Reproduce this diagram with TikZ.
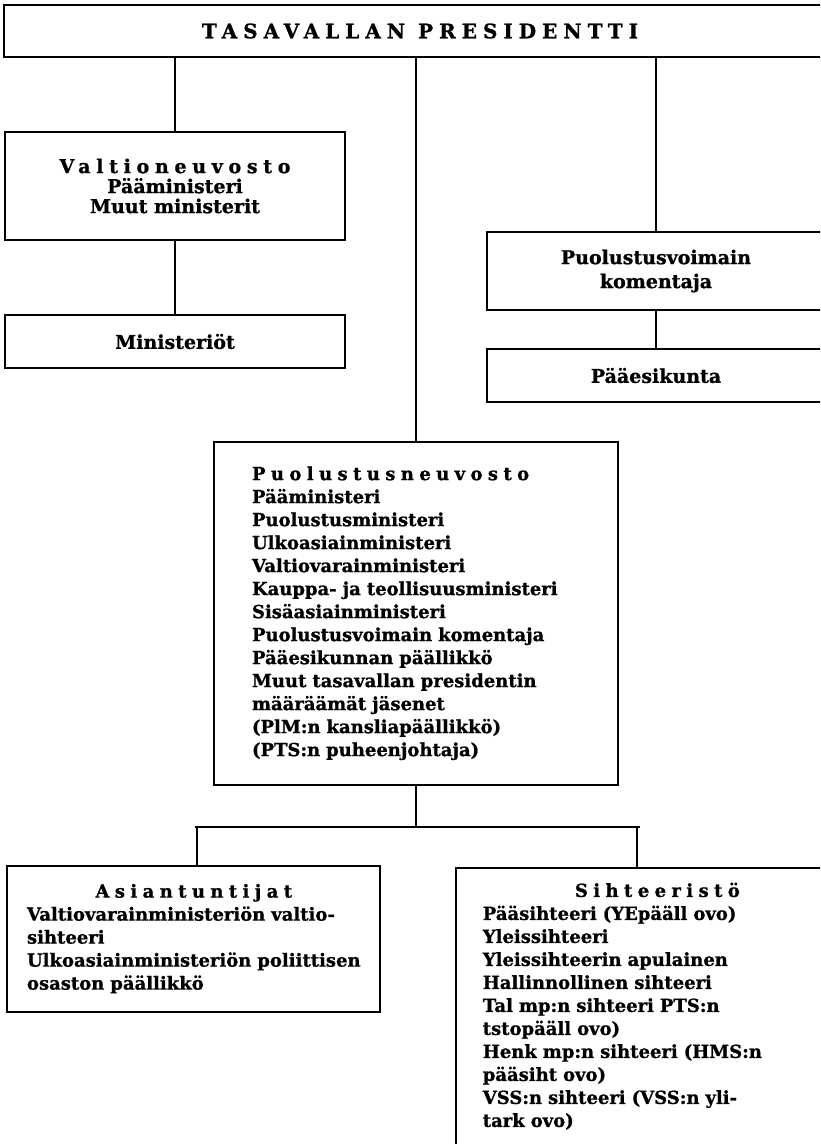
\documentclass[tikz,border=0pt]{standalone}
\usepackage{fontspec}
\setmainfont{DejaVu Serif}[BoldFeatures={FakeBold=1}]
\newfontfamily\harva{DejaVu Serif}[LetterSpace=30, BoldFeatures={FakeBold=1}]

\tikzset{
  laatikko/.style={draw, line width=1.6pt, inner sep=0pt, align=center,
    font=\fontsize{19}{20}\selectfont\bfseries},
  luettelo/.style={draw, line width=1.6pt, inner ysep=0pt, align=left,
    font=\fontsize{18}{23}\selectfont\bfseries},
  yhteys/.style={line width=1.6pt},
}

\begin{document}
\begin{tikzpicture}[x=1pt,y=-1pt]
  \useasboundingbox (0,0) rectangle (820,1144);
  \clip (0,0) rectangle (820,1144);

  % ylin taso
  \node[laatikko, minimum width=832pt, minimum height=52pt,
    font=\fontsize{20}{22}\selectfont\bfseries] (presidentti) at (420,31)
    {\harva TASAVALLAN PRESIDENTTI};

  % vasen haara
  \node[laatikko, minimum width=340pt, minimum height=108pt] (valtioneuvosto) at (175,186)
    {{\harva Valtioneuvosto}\\Pääministeri\\Muut ministerit};
  \node[laatikko, minimum width=340pt, minimum height=53pt] (ministeriot) at (175,341.5)
    {Ministeriöt};

  % oikea haara
  \node[laatikko, minimum width=338pt, minimum height=78pt,
    font=\fontsize{19}{24}\selectfont\bfseries] (komentaja) at (656,271)
    {Puolustusvoimain\\komentaja};
  \node[laatikko, minimum width=338pt, minimum height=53pt] (paaesikunta) at (656,375.5)
    {Pääesikunta};

  % keskimmäinen
  \node[luettelo, text width=328pt, inner xsep=38pt, minimum height=343pt] (neuvosto) at (416,613.5)
    {\begin{tabular}{@{}l@{}}
      {\harva Puolustusneuvosto}\\
      Pääministeri\\
      Puolustusministeri\\
      Ulkoasiainministeri\\
      Valtiovarainministeri\\
      Kauppa- ja teollisuusministeri\\
      Sisäasiainministeri\\
      Puolustusvoimain komentaja\\
      Pääesikunnan päällikkö\\
      Muut tasavallan presidentin\\
      määräämät jäsenet\\
      (PlM:n kansliapäällikkö)\\
      (PTS:n puheenjohtaja)
    \end{tabular}};

  % alin taso
  \node[luettelo, text width=333pt, inner xsep=20pt, minimum height=146pt] (asiantuntijat) at (193.5,939)
    {\begin{tabular}{@{}l@{}}
      \multicolumn{1}{@{}c@{}}{\harva Asiantuntijat}\\
      Valtiovarainministeriön valtio-\\
      sihteeri\\
      Ulkoasiainministeriön poliittisen\\
      osaston päällikkö
    \end{tabular}};
  \node[luettelo, text width=400pt, inner xsep=27pt, inner ysep=13pt, anchor=north west] (sihteeristo) at (455,867)
    {\begin{tabular}{@{}l@{}}
      \multicolumn{1}{@{}c@{}}{\hspace{70pt}\harva Sihteeristö}\\
      Pääsihteeri (YEpääll ovo)\\
      Yleissihteeri\\
      Yleissihteerin apulainen\\
      Hallinnollinen sihteeri\\
      Tal mp:n sihteeri PTS:n\\
      tstopääll ovo)\\
      Henk mp:n sihteeri (HMS:n\\
      pääsiht ovo)\\
      VSS:n sihteeri (VSS:n yli-\\
      tark ovo)\\[40pt]
    \end{tabular}};

  % yhteydet
  \draw[yhteys] (presidentti.south -| valtioneuvosto.north) -- (valtioneuvosto.north);
  \draw[yhteys] (presidentti.south -| neuvosto.north) -- (neuvosto.north);
  \draw[yhteys] (presidentti.south -| komentaja.north) -- (komentaja.north);
  \draw[yhteys] (valtioneuvosto) -- (ministeriot);
  \draw[yhteys] (komentaja) -- (paaesikunta);

  \coordinate (vasen) at (197,827);
  \coordinate (oikea) at (637,827);
  \draw[yhteys] (neuvosto.south) -- (neuvosto.south |- vasen);
  \draw[yhteys] ([xshift=-2pt]vasen) -- ([xshift=3pt]oikea);
  \draw[yhteys] (vasen) -- (vasen |- asiantuntijat.north);
  \draw[yhteys] (oikea) -- (oikea |- sihteeristo.north);
\end{tikzpicture}
\end{document}
